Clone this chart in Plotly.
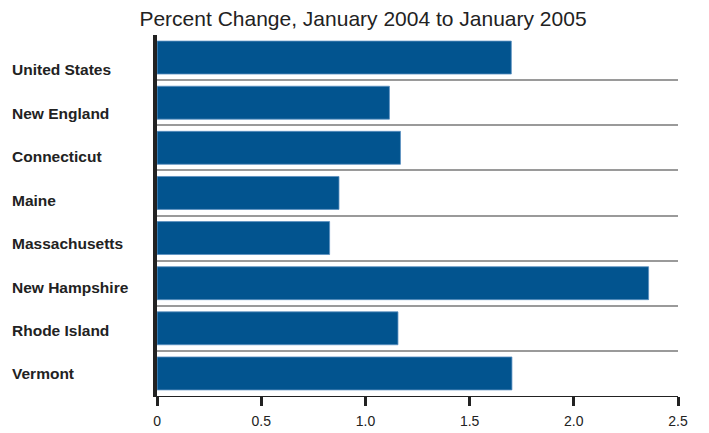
import plotly.graph_objects as go

categories = ["United States", "New England", "Connecticut", "Maine",
              "Massachusetts", "New Hampshire", "Rhode Island", "Vermont"]
values = [1.70, 1.115, 1.168, 0.873, 0.828, 2.359, 1.156, 1.703]
x_ticks = [0, 0.5, 1.0, 1.5, 2.0, 2.5]
x_tick_labels = ["0", "0.5", "1.0", "1.5", "2.0", "2.5"]
title_text = "Percent Change, January 2004 to January 2005"

n = len(categories)
idx = list(range(n))

W, H = 709, 433
ml, mr, mt, mb = 0, 31, 35, 37
plot_w = W - ml - mr

fig = go.Figure()
fig.add_trace(go.Bar(
    x=values, y=idx, orientation="h",
    marker=dict(color="#02548F", line=dict(color="#5b8fc0", width=0.8)),
    width=0.73, showlegend=False, hoverinfo="x",
))
# invisible trace carrying the category labels on the label axis
fig.add_trace(go.Scatter(
    x=[None] * n, y=categories, yaxis="y2", mode="markers",
    showlegend=False, hoverinfo="skip",
))

fig.update_layout(
    width=W, height=H,
    margin=dict(l=ml, r=mr, t=mt, b=mb),
    paper_bgcolor="white", plot_bgcolor="white",
    title=dict(text=title_text, x=0.512, xanchor="center", y=0.958, yanchor="middle",
               font=dict(family="Liberation Sans, Arial", size=21, color="#222")),
    bargap=0.27,
    xaxis=dict(
        domain=[154 / plot_w, 1], range=[0, 2.5], tickvals=x_ticks, ticktext=x_tick_labels,
        showgrid=False, zeroline=False, showline=True, linecolor="#222", linewidth=1,
        ticks="outside", ticklen=9, tickwidth=2.5, tickcolor="#222",
        ticklabelstandoff=3,
        tickfont=dict(family="Liberation Sans, Arial", size=14, color="#222"),
        fixedrange=True,
    ),
    yaxis=dict(
        range=[n - 0.5, -0.5], tickvals=[i + 0.5 for i in range(n - 1)],
        showticklabels=False, showgrid=True, gridcolor="#9a9a9a", gridwidth=1.6,
        zeroline=False, showline=True, linecolor="#222", linewidth=3.5,
        ticks="", fixedrange=True,
    ),
    yaxis2=dict(
        overlaying="y", anchor="free", position=0.0, side="left",
        type="category", categoryorder="array", categoryarray=categories,
        range=[7.506, -0.806], showgrid=False, zeroline=False, showline=False,
        ticks="", ticklabelposition="inside", ticklabelstandoff=4,
        tickfont=dict(family="Liberation Sans, Arial", size=15.5, color="#222", weight="bold"),
        fixedrange=True,
    ),
)

fig.write_html("out.html", config={"displayModeBar": False},
               post_script="document.body.style.margin='0';document.body.style.padding='0';")
